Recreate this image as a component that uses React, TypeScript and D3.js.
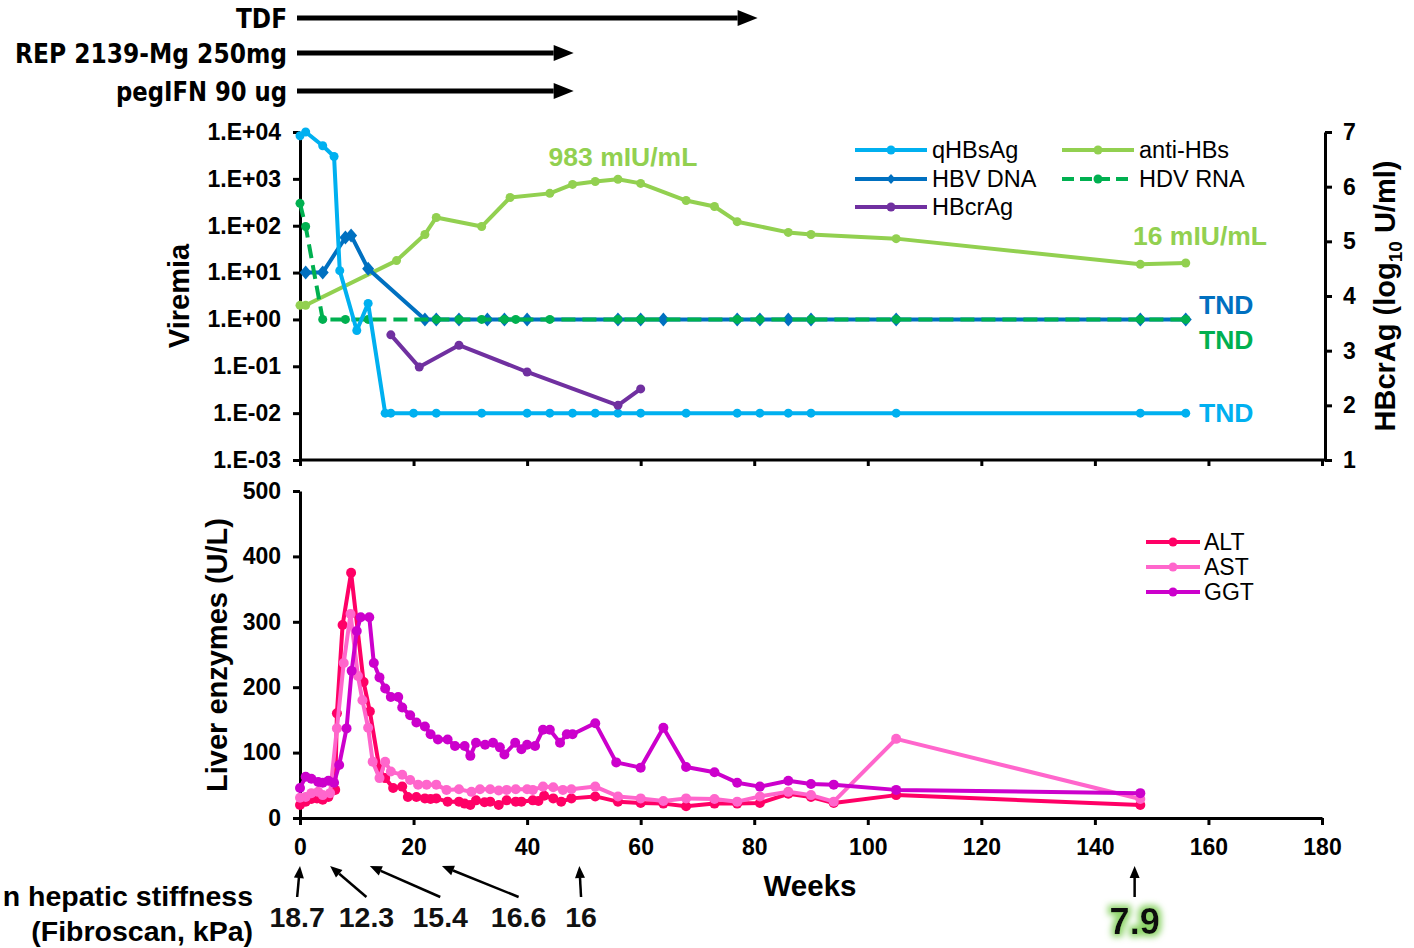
import { useEffect, useRef } from 'react';
import * as d3 from 'd3';

const W = 1414;
const H = 948;
const FONT = '"Liberation Sans", Arial, sans-serif';
const NARROW = '"Liberation Sans Narrow", "DejaVu Sans Condensed", Arial, sans-serif';

// ---- viremia panel (weeks / values) ----
const qhbsWeeks = [0, 1, 4, 6, 7, 10, 12, 15, 16, 20, 24, 32, 40, 44, 48, 52, 56, 60, 68, 77, 81, 86, 90, 105, 148, 156];
const qhbsValues = [8300, 10000, 5100, 3000, 11, 0.58, 2.2, 0.01, 0.01, 0.01, 0.01, 0.01, 0.01, 0.01, 0.01, 0.01, 0.01, 0.01, 0.01, 0.01, 0.01, 0.01, 0.01, 0.01, 0.01, 0.01];

const hbvWeeks = [1, 4, 8, 9, 12, 22, 24, 28, 33, 36, 40, 56, 60, 64, 77, 81, 86, 90, 105, 148, 156];
const hbvValues = [10, 10, 56, 62, 12, 1, 1, 1, 1, 1, 1, 1, 1, 1, 1, 1, 1, 1, 1, 1, 1];

const hdvWeeks = [0, 1, 4, 8, 12, 24, 28, 32, 36, 38, 44, 56, 60, 77, 81, 90, 105, 148, 156];
const hdvValues = [300, 96, 1, 1, 1, 1, 1, 1, 1, 1, 1, 1, 1, 1, 1, 1, 1, 1, 1];

const antiWeeks = [0, 1, 17, 22, 24, 32, 37, 44, 48, 52, 56, 60, 68, 73, 77, 86, 90, 105, 148, 156];
const antiValues = [2, 2, 18, 65, 150, 96, 400, 490, 760, 880, 983, 800, 345, 257, 122, 72, 65, 53, 15, 16];

const hbcrWeeks = [16, 21, 28, 40, 56, 60];
const hbcrValues = [3.29, 2.7, 3.1, 2.61, 2.0, 2.3];

// ---- liver enzymes panel ----
const altWeeks = [0, 1, 2, 3, 4, 5, 6.2, 6.5, 7.5, 9, 11.2, 12.3, 14, 15, 16.4, 18, 19, 20.5, 22, 23, 24, 26, 28, 29, 30, 31, 32.5, 33.5, 35, 36.4, 38, 39, 41, 42, 43, 44.6, 46, 47.8, 52, 56, 60, 64, 68, 73, 77, 81, 86, 90, 94, 105, 148];
const altValues = [20, 25, 29, 30, 28, 32, 43, 160, 295, 375, 208, 163, 75, 61, 46, 48, 32, 32, 30, 29, 30, 25, 25, 22, 20, 27, 24, 25, 20, 27, 25, 25, 27, 26, 34, 30, 25, 30, 33, 25, 23, 22, 18, 22, 22, 23, 37, 32, 23, 35, 20];

const astWeeks = [0, 1, 2, 3.2, 4, 5.3, 6.5, 7.7, 8.9, 10.2, 11, 12, 12.8, 14, 15, 16, 18, 19.4, 20.8, 22.3, 24, 25.8, 28, 30.2, 31.7, 33.5, 35, 36.4, 38, 40, 41, 42.8, 44.6, 46.3, 47.8, 52, 56, 60, 64, 68, 73, 77, 81, 86, 90, 94, 105, 148];
const astValues = [31, 32, 38, 40, 35, 38, 137, 237, 312, 217, 180, 138, 86, 61, 86, 71, 66, 58, 51, 51, 51, 43, 44, 40, 44, 44, 42, 43, 44, 44, 43, 48, 47, 43, 44, 48, 33, 30, 26, 30, 29, 25, 33, 40, 35, 25, 121, 29];

const ggtWeeks = [0, 1, 2, 3.2, 4, 5, 6, 6.9, 8.2, 9.1, 10, 10.7, 12.2, 13, 14, 15, 16, 17.3, 18, 19.4, 20.5, 22, 23, 24.3, 26, 27.3, 29, 30, 31, 32.6, 34, 35.2, 36, 37.9, 39, 40, 41.4, 42.8, 44, 45.8, 47, 48, 52, 55.7, 60, 64, 68, 73, 77, 81, 86, 90, 94, 105, 148];
const ggtValues = [46, 63, 60, 55, 54, 57, 54, 81, 137, 225, 286, 307, 307, 237, 215, 198, 185, 185, 169, 157, 146, 140, 128, 120, 120, 110, 110, 95, 115, 112, 115, 108, 97, 115, 105, 112, 110, 135, 135, 115, 128, 128, 145, 85, 77, 138, 78, 70, 54, 48, 57, 52, 51, 43, 38];

// ---- treatments ----
const treatNames = ['TDF', 'REP 2139-Mg 250mg', 'pegIFN 90 ug'];
const treatEndWeeks = [80.6, 48.2, 48.2];
const treatLabelWidths = [51, 272, 171];

// ---- fibroscan ----
const fibroLabels = ['18.7', '12.3', '15.4', '16.6', '16', '7.9'];
const fibroLabelWeeks = [-0.5, 11.7, 24.7, 38.5, 49.5, 147];
const fibroTipWeeks = [0, 5.3, 12.3, 25, 49.2, 147];

const topTicks = [1e-3, 1e-2, 1e-1, 1, 10, 100, 1000, 10000];
const rightTicks = [1, 2, 3, 4, 5, 6, 7];
const enzTicks = [0, 100, 200, 300, 400, 500];
const weekTicks = [0, 20, 40, 60, 80, 100, 120, 140, 160, 180];

const C = {
  qhbs: '#00B0F0',
  hbv: '#0070C0',
  hbcr: '#7030A0',
  anti: '#92D050',
  hdv: '#00B050',
  alt: '#FF0066',
  ast: '#FF66CC',
  ggt: '#CC00CC',
};

const fmtExp = (d: number) => {
  const e = Math.round(Math.log10(d));
  const s = e >= 0 ? '+' : '-';
  return `1.E${s}${String(Math.abs(e)).padStart(2, '0')}`;
};

const App = () => {
  const ref = useRef<SVGSVGElement>(null);

  useEffect(() => {
    const svg = d3.select(ref.current);
    svg.selectAll('*').remove();

    const x = d3.scaleLinear().domain([0, 180]).range([300, 1322]);
    const yV = d3.scaleLog().domain([1e-3, 1e4]).range([460, 132]);
    const yR = d3.scaleLinear().domain([1, 7]).range([460, 132]);
    const yE = d3.scaleLinear().domain([0, 500]).range([818, 491]);

    // glow filter for the last fibroscan value
    const defs = svg.append('defs');
    const f = defs.append('filter').attr('id', 'glow').attr('x', '-50%').attr('y', '-50%').attr('width', '200%').attr('height', '200%');
    f.append('feMorphology').attr('in', 'SourceAlpha').attr('operator', 'dilate').attr('radius', 3).attr('result', 'd');
    f.append('feGaussianBlur').attr('in', 'd').attr('stdDeviation', 3).attr('result', 'b');
    f.append('feFlood').attr('flood-color', '#8ED46A').attr('result', 'c');
    f.append('feComposite').attr('in', 'c').attr('in2', 'b').attr('operator', 'in').attr('result', 'g');
    const fm = f.append('feMerge');
    fm.append('feMergeNode').attr('in', 'g');
    fm.append('feMergeNode').attr('in', 'SourceGraphic');

    const styleAxis = (g: any, size = 23) => {
      g.select('.domain').attr('stroke', '#000').attr('stroke-width', 3);
      g.selectAll('.tick line').attr('stroke', '#000').attr('stroke-width', 3);
      g.selectAll('.tick text')
        .attr('fill', '#000')
        .style('font-family', FONT)
        .style('font-weight', 'bold')
        .style('font-size', `${size}px`);
    };

    const arrow = (g: any, x1: number, y1: number, x2: number, y2: number, sw: number, hl: number, hw: number) => {
      const a = Math.atan2(y2 - y1, x2 - x1);
      const bx = x2 - hl * Math.cos(a);
      const by = y2 - hl * Math.sin(a);
      g.append('line').attr('x1', x1).attr('y1', y1).attr('x2', bx).attr('y2', by)
        .attr('stroke', '#000').attr('stroke-width', sw);
      const px = -Math.sin(a) * hw;
      const py = Math.cos(a) * hw;
      g.append('path')
        .attr('d', `M${x2},${y2}L${bx + px},${by + py}L${bx - px},${by - py}Z`)
        .attr('fill', '#000');
    };

    // ---- treatment arrows ----
    const treatY = [18, 53, 91];
    treatNames.forEach((name, i) => {
      svg.append('text')
        .attr('x', 287).attr('y', treatY[i] + 10)
        .attr('text-anchor', 'end')
        .attr('textLength', treatLabelWidths[i])
        .attr('lengthAdjust', 'spacingAndGlyphs')
        .style('font-family', NARROW).style('font-weight', 'bold').style('font-size', '27px')
        .text(name);
      arrow(svg, x(0) - 3, treatY[i], x(treatEndWeeks[i]), treatY[i], 5, 20, 8);
    });

    // ---- viremia axes ----
    svg.append('g').attr('transform', 'translate(300,0)')
      .call(d3.axisLeft(yV).tickValues(topTicks).tickFormat(fmtExp as any).tickSize(7).tickPadding(12).tickSizeOuter(0))
      .call(styleAxis);
    svg.append('g').attr('transform', 'translate(0,460)')
      .call(d3.axisBottom(x).tickValues(weekTicks).tickFormat(() => '').tickSize(6).tickSizeOuter(0))
      .call(styleAxis)
      .select('.domain').attr('d', 'M300,0H1325');
    svg.append('g').attr('transform', 'translate(1325,0)')
      .call(d3.axisRight(yR).tickValues(rightTicks).tickFormat(d3.format('d') as any).tickSize(7).tickPadding(11).tickSizeOuter(0))
      .call(styleAxis);

    const drawSeries = (weeks: number[], vals: number[], y: any, color: string, opts: { dash?: string; diamond?: boolean; r?: number; w?: number }) => {
      const pts = d3.zip(weeks, vals) as [number, number][];
      const g = svg.append('g');
      g.append('path')
        .datum(pts)
        .attr('d', d3.line<[number, number]>().x(d => x(d[0])).y(d => y(d[1])))
        .attr('fill', 'none')
        .attr('stroke', color)
        .attr('stroke-width', opts.w ?? 4)
        .attr('stroke-linejoin', 'round')
        .attr('stroke-dasharray', opts.dash ?? null);
      if (opts.diamond) {
        g.selectAll('path.m').data(pts).join('path').attr('class', 'm')
          .attr('d', 'M0,-7L6,0L0,7L-6,0Z')
          .attr('transform', d => `translate(${x(d[0])},${y(d[1])})`)
          .attr('fill', color);
      } else {
        g.selectAll('circle').data(pts).join('circle')
          .attr('cx', d => x(d[0])).attr('cy', d => y(d[1]))
          .attr('r', opts.r ?? 4.5).attr('fill', color);
      }
    };

    drawSeries(antiWeeks, antiValues, yV, C.anti, {});
    drawSeries(hbvWeeks, hbvValues, yV, C.hbv, { diamond: true });
    drawSeries(hdvWeeks, hdvValues, yV, C.hdv, { dash: '14,7' });
    drawSeries(qhbsWeeks, qhbsValues, yV, C.qhbs, {});
    drawSeries(hbcrWeeks, hbcrValues, yR, C.hbcr, {});

    // annotations
    const ann = (t: string, xx: number, yy: number, color: string, size: number, anchor = 'middle') =>
      svg.append('text').attr('x', xx).attr('y', yy).attr('text-anchor', anchor).attr('fill', color)
        .style('font-family', FONT).style('font-weight', 'bold').style('font-size', `${size}px`).text(t);
    ann('983 mIU/mL', 623, 166, C.anti, 26.5);
    ann('16 mIU/mL', 1200, 245, C.anti, 26.5);
    ann('TND', 1199, 314, C.hbv, 26.5, 'start');
    ann('TND', 1199, 349, C.hdv, 26.5, 'start');
    ann('TND', 1199, 422, C.qhbs, 26.5, 'start');

    // legend (top)
    const legTop = [
      { name: 'qHBsAg', color: C.qhbs, x: 855, y: 150 },
      { name: 'HBV DNA', color: C.hbv, x: 855, y: 179, diamond: true },
      { name: 'HBcrAg', color: C.hbcr, x: 855, y: 207 },
      { name: 'anti-HBs', color: C.anti, x: 1062, y: 150 },
      { name: 'HDV RNA', color: C.hdv, x: 1062, y: 179, dash: '12,6' },
    ];
    legTop.forEach(l => {
      svg.append('line').attr('x1', l.x).attr('x2', l.x + 72).attr('y1', l.y).attr('y2', l.y)
        .attr('stroke', l.color).attr('stroke-width', 4).attr('stroke-dasharray', (l as any).dash ?? null);
      if ((l as any).diamond) {
        svg.append('path').attr('d', 'M0,-5L4.5,0L0,5L-4.5,0Z')
          .attr('transform', `translate(${l.x + 36},${l.y})`).attr('fill', l.color);
      } else {
        svg.append('circle').attr('cx', l.x + 36).attr('cy', l.y).attr('r', 4.5).attr('fill', l.color);
      }
      svg.append('text').attr('x', l.x + 77).attr('y', l.y + 8)
        .style('font-family', FONT).style('font-size', '23.5px').text(l.name);
    });

    // axis titles
    svg.append('text').attr('transform', 'translate(189,296) rotate(-90)').attr('text-anchor', 'middle')
      .style('font-family', FONT).style('font-weight', 'bold').style('font-size', '29px').text('Viremia');
    const rt = svg.append('text').attr('transform', 'translate(1395,296) rotate(-90)').attr('text-anchor', 'middle')
      .style('font-family', FONT).style('font-weight', 'bold').style('font-size', '29px');
    rt.append('tspan').text('HBcrAg (log');
    rt.append('tspan').attr('font-size', '19px').attr('dy', 7).text('10');
    rt.append('tspan').attr('dy', -7).text(' U/ml)');

    // ---- enzymes panel ----
    svg.append('g').attr('transform', 'translate(300,0)')
      .call(d3.axisLeft(yE).tickValues(enzTicks).tickFormat(d3.format('d') as any).tickSize(7).tickPadding(12).tickSizeOuter(0))
      .call(styleAxis);
    svg.append('g').attr('transform', 'translate(0,818)')
      .call(d3.axisBottom(x).tickValues(weekTicks).tickFormat(d3.format('d') as any).tickSize(7).tickPadding(14).tickSizeOuter(0))
      .call(styleAxis);

    drawSeries(altWeeks, altValues, yE, C.alt, { r: 5 });
    drawSeries(astWeeks, astValues, yE, C.ast, { r: 5 });
    drawSeries(ggtWeeks, ggtValues, yE, C.ggt, { r: 5 });

    const legBot = [
      { name: 'ALT', color: C.alt, y: 542 },
      { name: 'AST', color: C.ast, y: 567 },
      { name: 'GGT', color: C.ggt, y: 592 },
    ];
    legBot.forEach(l => {
      svg.append('line').attr('x1', 1146).attr('x2', 1200).attr('y1', l.y).attr('y2', l.y)
        .attr('stroke', l.color).attr('stroke-width', 4);
      svg.append('circle').attr('cx', 1173).attr('cy', l.y).attr('r', 4.5).attr('fill', l.color);
      svg.append('text').attr('x', 1204).attr('y', l.y + 8)
        .style('font-family', FONT).style('font-size', '23px').text(l.name);
    });

    svg.append('text').attr('transform', 'translate(227,655) rotate(-90)').attr('text-anchor', 'middle')
      .style('font-family', FONT).style('font-weight', 'bold').style('font-size', '29px').text('Liver enzymes (U/L)');
    svg.append('text').attr('x', 810).attr('y', 896).attr('text-anchor', 'middle')
      .style('font-family', FONT).style('font-weight', 'bold').style('font-size', '29.5px').text('Weeks');

    // ---- fibroscan ----
    ann('n hepatic stiffness', 253, 906, '#000', 28.5, 'end');
    ann('(Fibroscan, kPa)', 253, 941, '#000', 28.5, 'end');
    fibroLabels.forEach((t, i) => {
      const last = i === fibroLabels.length - 1;
      const lx = x(fibroLabelWeeks[i]);
      const tx = x(fibroTipWeeks[i]);
      arrow(svg, lx, 897, tx, 866, 2.5, 12, 5);
      const txt = ann(t, lx, last ? 934 : 927, '#111', last ? 36 : 28.5);
      if (last) txt.attr('filter', 'url(#glow)');
    });
  }, []);

  return (
    <svg
      ref={ref}
      width={W}
      height={H}
      style={{ position: 'absolute', left: 0, top: 0, background: '#fff' }}
    />
  );
};

export default App;
